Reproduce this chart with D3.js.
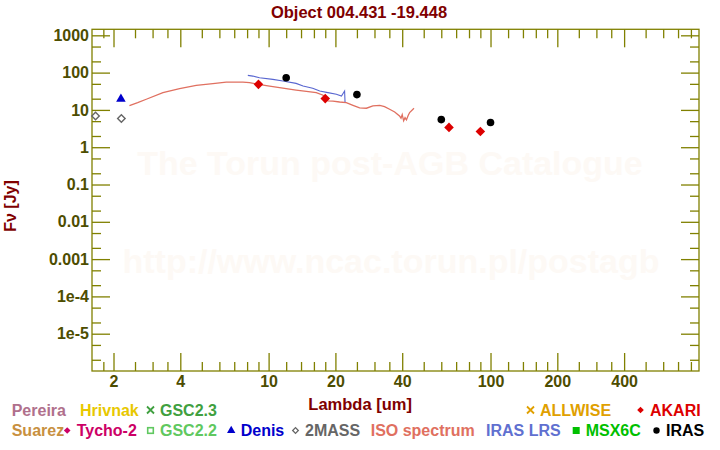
<!DOCTYPE html>
<html><head><meta charset="utf-8">
<script src="https://cdn.jsdelivr.net/npm/d3@7"></script>
<style>
body{margin:0;background:#fff}
svg{display:block;font-family:"Liberation Sans",Arial,sans-serif;font-weight:bold}
</style>
</head><body>
<svg id="c" width="720" height="450"></svg>
<script>
// ---------- data ----------
const isoLambda = [2.36,2.57,2.81,3.34,3.97,4.72,5.61,6.44,7.66,8.2,9.01,10.1,12.0,13.3,14.8,16.4,17.6,17.9,18.5,19.5,20.9,22.4,24.0,25.7,27.6,29.5,31.7,33.3,35.1,37.0,38.9,39.5,40.0,40.6,41.2,41.8,42.5,43.2,45.2];
const isoFlux   = [13.1,15.7,19.3,29.1,37.2,45.6,50.6,55.8,55.8,53.8,48.5,43.6,37.2,34.1,31.5,29.1,24.7,20.1,17.4,17.1,16.3,15.7,13.3,11.3,11.1,12.8,13.3,12.3,10.4,8.8,6.9,6.0,7.5,5.1,6.2,5.4,7.0,8.5,11.1];
const lrsLambda = [8.06,8.49,9.1,10.45,11.6,13.3,14.3,15.8,17.0,18.5,20.2,21.3,22.0,22.1];
const lrsFlux   = [84.2,80.7,73.1,65.9,59.3,51.5,43.6,37.9,32.1,29.1,26.2,23.6,32.1,16.3];
const twomassLambda = [1.66,2.17];
const twomassFlux   = [6.9,5.9];
const denisLambda = [2.16];
const denisFlux   = [19.6];
const irasLambda = [12,25,60,100];
const irasFlux   = [73,25.7,5.5,4.6];
const akariLambda = [9,18,65,90];
const akariFlux   = [48.5,20.1,3.4,2.65];

const xMajor = [2,4,10,20,40,100,200,400];
const xMinor = [1.8,2.5,3,3.5,5,6,7,8,9,12,14,16,18,25,30,35,50,60,70,80,90,120,140,160,180,250,300,350,500,600,700,800];
const yMajor = [1000,100,10,1,0.1,0.01,0.001,1e-4,1e-5];
const yMajorLabels = ["1000","100","10","1","0.1","0.01","0.001","1e-4","1e-5"];
const yMinor = [500,200,50,20,5,2,0.5,0.2,0.05,0.02,0.005,0.002,5e-4,2e-4,5e-5,2e-5,5e-6,2e-6];

const legendNames  = ["Pereira","Hrivnak","GSC2.3","ALLWISE","AKARI","Suarez","Tycho-2","GSC2.2","Denis","2MASS","ISO spectrum","IRAS LRS","MSX6C","IRAS"];
const legendColors = ["#b0708c","#e8c800","#40a040","#e0a000","#dd0000","#c89040","#cc0066","#60c860","#0000cc","#666666","#e07060","#6070d0","#00c000","#000000"];
const legendSymbols= [null,null,"x","x","diamond",null,"diamond","square","triangle","odiamond",null,null,"fsquare","circle"];

// ---------- layout ----------
const L=92, R=699, T=29.3, B=371;
const legendPos = [[11.7,1],[80,1],[160,1],[540,1],[650,1],[11.7,2],[76.7,2],[160,2],[240.7,2],[305,2],[370.7,2],[486,2],[585.7,2],[666,2]];
const axisCol="#808000", tickLab="#4d4d00", titleCol="#800000";

const svg=d3.select("#c");
const x=d3.scaleLog().domain([1.6,870]).range([L,R]);
const y=d3.scaleLog().domain([1e-6,1450]).range([B,T]);

// watermark
svg.append("text").attr("x",390).attr("y",175).attr("text-anchor","middle")
  .attr("font-size",34).attr("fill","#fdf9f5").text("The Torun post-AGB Catalogue");
svg.append("text").attr("x",391).attr("y",273).attr("text-anchor","middle")
  .attr("font-size",34).attr("fill","#fdf9f5").text("http://www.ncac.torun.pl/postagb");

// axes
function styleAxis(g){
  g.select(".domain").remove();
  g.selectAll("line").attr("stroke",axisCol).attr("stroke-width",1.3);
  g.selectAll("text").attr("fill",tickLab).attr("font-size",16).attr("font-family",null).attr("font-weight","bold");
}
svg.append("g").attr("transform",`translate(0,${B})`)
  .call(d3.axisBottom(x).tickValues(xMajor).tickSize(-18).tickPadding(5).tickFormat(d3.format("d"))).call(styleAxis);
svg.append("g").attr("transform",`translate(0,${B})`)
  .call(d3.axisBottom(x).tickValues(xMinor).tickSize(-9).tickFormat("")).call(styleAxis);
svg.append("g").attr("transform",`translate(0,${T})`)
  .call(d3.axisTop(x).tickValues(xMajor).tickSize(-18).tickFormat("")).call(styleAxis);
svg.append("g").attr("transform",`translate(0,${T})`)
  .call(d3.axisTop(x).tickValues(xMinor).tickSize(-9).tickFormat("")).call(styleAxis);
svg.append("g").attr("transform",`translate(${L},0)`)
  .call(d3.axisLeft(y).tickValues(yMajor).tickSize(-18).tickPadding(3).tickFormat((d,i)=>yMajorLabels[i])).call(styleAxis);
svg.append("g").attr("transform",`translate(${L},0)`)
  .call(d3.axisLeft(y).tickValues(yMinor).tickSize(-9).tickFormat("")).call(styleAxis);
svg.append("g").attr("transform",`translate(${R},0)`)
  .call(d3.axisRight(y).tickValues(yMajor).tickSize(-18).tickFormat("")).call(styleAxis);
svg.append("g").attr("transform",`translate(${R},0)`)
  .call(d3.axisRight(y).tickValues(yMinor).tickSize(-9).tickFormat("")).call(styleAxis);
svg.append("rect").attr("x",L).attr("y",T).attr("width",R-L).attr("height",B-T)
  .attr("fill","none").attr("stroke",axisCol).attr("stroke-width",1.3);

// titles
svg.append("text").attr("x",359).attr("y",17.5).attr("text-anchor","middle").attr("font-size",16.5)
  .attr("fill",titleCol).text("Object 004.431 -19.448");
svg.append("text").attr("x",308.3).attr("y",409.5).attr("font-size",16.5)
  .attr("fill",titleCol).text("Lambda [um]");
svg.append("text").attr("transform","translate(16,206) rotate(-90)").attr("text-anchor","middle")
  .attr("font-size",16).attr("fill",titleCol).text("Fν [Jy]");

// lines
const line=d3.line().x(d=>x(d[0])).y(d=>y(d[1]));
svg.append("path").datum(isoLambda.map((l,i)=>[l,isoFlux[i]])).attr("d",line)
  .attr("fill","none").attr("stroke","#e07060").attr("stroke-width",1.3);
svg.append("path").datum(lrsLambda.map((l,i)=>[l,lrsFlux[i]])).attr("d",line)
  .attr("fill","none").attr("stroke","#5866d0").attr("stroke-width",1.1);

// markers
function sym(type,size){return d3.symbol().type(type).size(size)();}
const dia = s => sym(d3.symbolSquare,s);
svg.selectAll(".tm").data(twomassLambda).join("path")
  .attr("transform",(d,i)=>`translate(${x(d)},${y(twomassFlux[i])}) rotate(45)`)
  .attr("d",dia(28)).attr("fill","none").attr("stroke","#666").attr("stroke-width",1.4);
svg.selectAll(".dn").data(denisLambda).join("path")
  .attr("transform",(d,i)=>`translate(${x(d)},${y(denisFlux[i])})`)
  .attr("d",sym(d3.symbolTriangle,40)).attr("fill","#0000cc");
svg.selectAll(".ak").data(akariLambda).join("path")
  .attr("transform",(d,i)=>`translate(${x(d)},${y(akariFlux[i])}) rotate(45)`)
  .attr("d",dia(46)).attr("fill","#dd0000");
svg.selectAll(".ir").data(irasLambda).join("circle")
  .attr("cx",d=>x(d)).attr("cy",(d,i)=>y(irasFlux[i])).attr("r",3.8).attr("fill","#000");

// legend
legendNames.forEach((n,i)=>{
  const [lx,row]=legendPos[i];
  const by = row===1?415.5:436;
  const my = row===1?410:430.5;
  svg.append("text").attr("x",lx).attr("y",by).attr("font-size",16).attr("fill",legendColors[i]).text(n);
  const s=legendSymbols[i]; if(!s) return;
  const mx=lx-9.5, c=legendColors[i];
  const g=svg.append("g").attr("transform",`translate(${mx},${my})`);
  if(s==="x") g.append("path").attr("d","M-3.5,-3.5L3.5,3.5M-3.5,3.5L3.5,-3.5").attr("stroke",c).attr("stroke-width",1.8);
  else if(s==="diamond") g.append("path").attr("transform","rotate(45)").attr("d",dia(22)).attr("fill",c);
  else if(s==="odiamond") g.append("path").attr("transform","rotate(45)").attr("d",dia(16)).attr("fill","none").attr("stroke",c).attr("stroke-width",1.3);
  else if(s==="square") g.append("rect").attr("x",-2.8).attr("y",-2.8).attr("width",5.6).attr("height",5.6).attr("fill","none").attr("stroke",c).attr("stroke-width",1.6);
  else if(s==="fsquare") g.append("rect").attr("x",-3.5).attr("y",-3.5).attr("width",7).attr("height",7).attr("fill",c);
  else if(s==="triangle") g.append("path").attr("d",sym(d3.symbolTriangle,30)).attr("fill",c);
  else if(s==="circle") g.append("circle").attr("r",3.2).attr("fill",c);
});
</script>
</body></html>
